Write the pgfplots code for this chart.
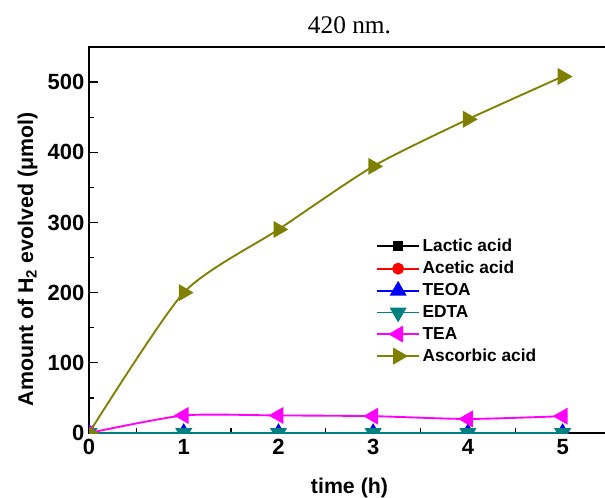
\documentclass[border=0pt]{standalone}
\usepackage{fontspec}
\setmainfont{Liberation Serif}
\newfontfamily\arial{Liberation Sans}
\usepackage{pgfplots}
\pgfplotsset{compat=1.18}
\definecolor{olivedk}{RGB}{128,128,0}
\definecolor{tealdk}{RGB}{0,128,128}
\definecolor{magpure}{RGB}{255,0,255}
\definecolor{redpure}{RGB}{255,0,0}
\definecolor{bluepure}{RGB}{0,0,255}
\begin{document}
\begin{tikzpicture}
  \begin{axis}[
    at={(0,0)}, anchor=south west,
    scale only axis, width=390.75pt, height=289.5pt,
    xmin=0, xmax=5.5, ymin=0, ymax=550,
    xtick={0,1,2,3,4,5}, ytick={0,100,200,300,400,500},
    minor x tick num=1, minor y tick num=1,
    xtick pos=bottom, ytick pos=left,
    tick align=inside,
    major tick length=7pt, minor tick length=4pt,
    axis line style={line width=1.1pt},
    tick style={line width=0.9pt, black},
    /pgf/number format/assume math mode=true,
    tick label style={font=\arial\bfseries\fontsize{16.5}{18}\selectfont},
    xticklabel style={yshift=-1pt},
    label style={font=\arial\bfseries\fontsize{16}{18}\selectfont},
    xlabel={time (h)},
    ylabel={Amount of H\textsubscript{2} evolved (μmol)},
    xlabel style={at={(axis description cs:0.5,0)}, anchor=base, yshift=-45pt},
    ylabel style={at={(axis description cs:-0.146,0.45)}, anchor=north},
    title={420 nm.},
    title style={font=\fontsize{19}{21}\selectfont, yshift=0pt},
    clip mode=individual,
    clip marker paths=true,
    every axis plot/.append style={line width=1.4pt},
    legend cell align=left,
    legend style={draw=none, fill=none, at={(0.551,0.51)}, anchor=north west,
      font=\arial\bfseries\fontsize{13}{15}\selectfont,
      row sep=1.8pt, inner sep=0pt},
    legend image code/.code={%
      \draw[mark repeat=2,mark phase=2] plot coordinates {(0cm,0cm)(0.55cm,0cm)(1.1cm,0cm)};},
  ]
    \addplot[black, mark=square*, mark size=3pt] coordinates {(0,0) (1,0) (2,0) (3,0) (4,0) (5,0)};
    \addlegendentry{Lactic acid}
    \addplot[redpure, mark=*, mark size=3.75pt] coordinates {(0,0) (1,0) (2,0) (3,0) (4,0) (5,0)};
    \addlegendentry{Acetic acid}
    \addplot[bluepure, mark=triangle*, mark size=6pt] coordinates {(0,0) (1,0) (2,0) (3,0) (4,0) (5,0)};
    \addlegendentry{TEOA}
    \addplot[tealdk, mark=triangle*, mark size=6pt, mark options={rotate=180}] coordinates {(0,0) (1,0) (2,0) (3,0) (4,0) (5,0)};
    \addlegendentry{EDTA}
    \addplot[magpure, mark=triangle*, mark size=6pt, mark options={rotate=90}, smooth, tension=0.4]
      coordinates {(0,0) (1,25) (2,25) (3,24) (4,20) (5,24)};
    \addlegendentry{TEA}
    \addplot[olivedk, mark=triangle*, mark size=6pt, mark options={rotate=-90}, smooth, tension=0.4]
      coordinates {(0,0) (1,200) (2,290) (3,380) (4,447) (5,508)};
    \addlegendentry{Ascorbic acid}
  \end{axis}
  \pgfresetboundingbox
  \useasboundingbox (-66.75pt,-48pt) rectangle (387pt,324.75pt);
\end{tikzpicture}
\end{document}
